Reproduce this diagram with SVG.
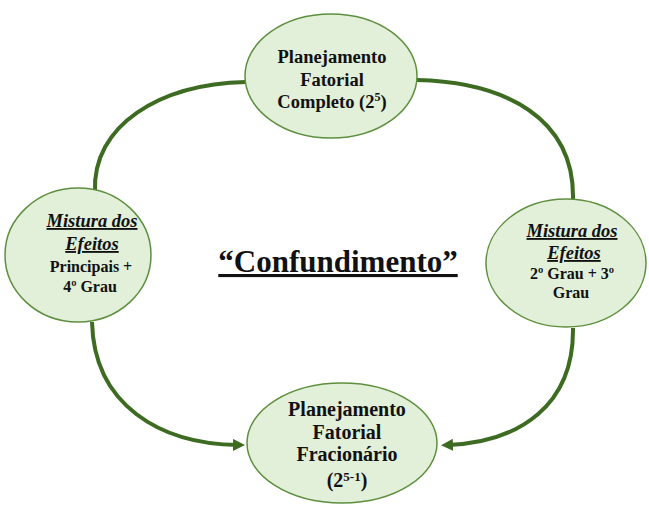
<svg xmlns="http://www.w3.org/2000/svg" width="649" height="507" viewBox="0 0 649 507">
<defs>
<marker id="arr" markerWidth="12" markerHeight="12" refX="5" refY="6" orient="auto" markerUnits="userSpaceOnUse" viewBox="0 0 12 12">
<path d="M0,0 L12,6 L0,12 Z" fill="#3d6b22"/>
</marker>
<style>
.node{fill:#e2efd9;stroke:#5e8f3e;stroke-width:1.5}
.conn{fill:none;stroke:#3d6b22;stroke-width:4}
.t{font-family:"Liberation Serif","Times New Roman",serif;font-weight:bold;fill:#111;text-anchor:middle}
.it{font-style:italic;text-decoration:underline}
</style>
</defs>
<rect width="649" height="507" fill="#fff"/>
<g id="connectors">
<path class="conn" d="M95,192 C92,125 160,84 246,82"/>
<path class="conn" d="M417,80 C505,82 575,118 573,200"/>
<path class="conn" d="M92,322 C94,405 160,444 238,445" marker-end="url(#arr)"/>
<path class="conn" d="M573,328 C574,405 520,442 448,445" marker-end="url(#arr)"/>
</g>
<g id="n-top">
<ellipse class="node" cx="331" cy="76" rx="86" ry="62"/>
<text class="t" font-size="18.5"><tspan x="332" y="63">Planejamento</tspan><tspan x="332" y="86">Fatorial</tspan><tspan x="332" y="108">Completo (2<tspan font-size="12" dy="-7">5</tspan><tspan dy="7">)</tspan></tspan></text>
</g>
<g id="n-left">
<ellipse class="node" cx="78" cy="255" rx="73" ry="67"/>
<text class="t it" font-size="18.5" x="92" y="227">Mistura dos</text>
<text class="t it" font-size="18.5" x="92" y="250">Efeitos</text>
<text class="t" font-size="16"><tspan x="91" y="272">Principais +</tspan><tspan x="90" y="292">4º Grau</tspan></text>
</g>
<g id="n-right">
<ellipse class="node" cx="566" cy="263" rx="80" ry="64"/>
<text class="t it" font-size="18.5" x="572" y="237">Mistura dos</text>
<text class="t it" font-size="18.5" x="574" y="259">Efeitos</text>
<text class="t" font-size="16"><tspan x="572" y="279">2º Grau + 3º</tspan><tspan x="571" y="298">Grau</tspan></text>
</g>
<g id="n-bottom">
<ellipse class="node" cx="342" cy="443" rx="95" ry="60"/>
<text class="t" font-size="20"><tspan x="347" y="416">Planejamento</tspan><tspan x="347" y="439">Fatorial</tspan><tspan x="347" y="461">Fracionário</tspan></text>
<text class="t" font-size="20" x="347" y="487">(2<tspan font-size="13" dy="-6">5-1</tspan><tspan dy="6">)</tspan></text>
</g>
<g id="label">
<text class="t" font-size="31" x="338" y="272" text-decoration="underline">“Confundimento”</text>
</g>
</svg>
